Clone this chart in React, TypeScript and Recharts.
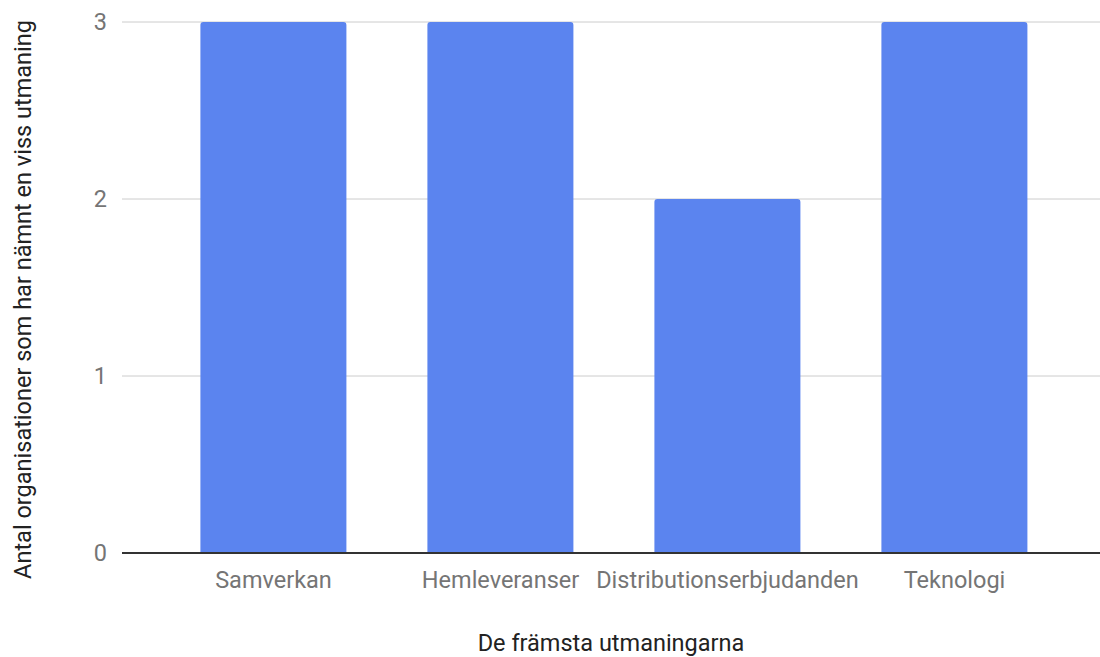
import React from 'react';
import { BarChart, Bar, XAxis, YAxis, CartesianGrid } from 'recharts';

// Categories and counts for the bar chart
const categories = ['Samverkan', 'Hemleveranser', 'Distributionserbjudanden', 'Teknologi'];
const counts = [3, 3, 2, 3];
const yTicks = [0, 1, 2, 3];

const xTitle = 'De främsta utmaningarna';
const yTitle = 'Antal organisationer som har nämnt en viss utmaning';

const data = categories.map((name, i) => ({ name, value: counts[i] }));

const FONT = 'Roboto, "Noto Sans", sans-serif';
const FS = 23.5;

const YTitle = (props: any) => {
  const vb = props.viewBox || {};
  const cx = 31;
  const cy = vb.y + vb.height / 2 + 12;
  return (
    <text
      x={cx}
      y={cy}
      transform={`rotate(-90, ${cx}, ${cy})`}
      textAnchor="middle"
      fill="#222"
      fontSize={FS}
      fontFamily={FONT}
    >
      {yTitle}
    </text>
  );
};

export default function App() {
  return (
    <div style={{ position: 'absolute', left: 0, top: 0, width: 1100, height: 657, background: '#fff' }}>
      <BarChart
        width={1100}
        height={657}
        data={data}
        margin={{ top: 22, right: 0, bottom: 0, left: 0 }}
        barCategoryGap="17.8%"
      >
        <CartesianGrid vertical={false} stroke="#cccccc" strokeWidth={1} />
        <YAxis
          width={122}
          domain={[0, 3]}
          ticks={yTicks}
          axisLine={false}
          tickLine={false}
          tickSize={6}
          tickMargin={9}
          tick={{ fill: '#757575', fontSize: FS, fontFamily: FONT }}
          label={<YTitle />}
        />
        <XAxis
          dataKey="name"
          height={104}
          padding={{ left: 38, right: 32 }}
          tickLine={false}
          tickSize={6}
          tickMargin={12}
          interval={0}
          axisLine={{ stroke: '#333333', strokeWidth: 2 }}
          tick={{ fill: '#757575', fontSize: FS, fontFamily: FONT }}
          label={{
            value: xTitle,
            position: 'insideBottom',
            offset: 6,
            fill: '#222',
            fontSize: FS,
            fontFamily: FONT,
          }}
        />
        <Bar dataKey="value" fill="#5b84ef" radius={[3, 3, 0, 0]} isAnimationActive={false} />
      </BarChart>
    </div>
  );
}
